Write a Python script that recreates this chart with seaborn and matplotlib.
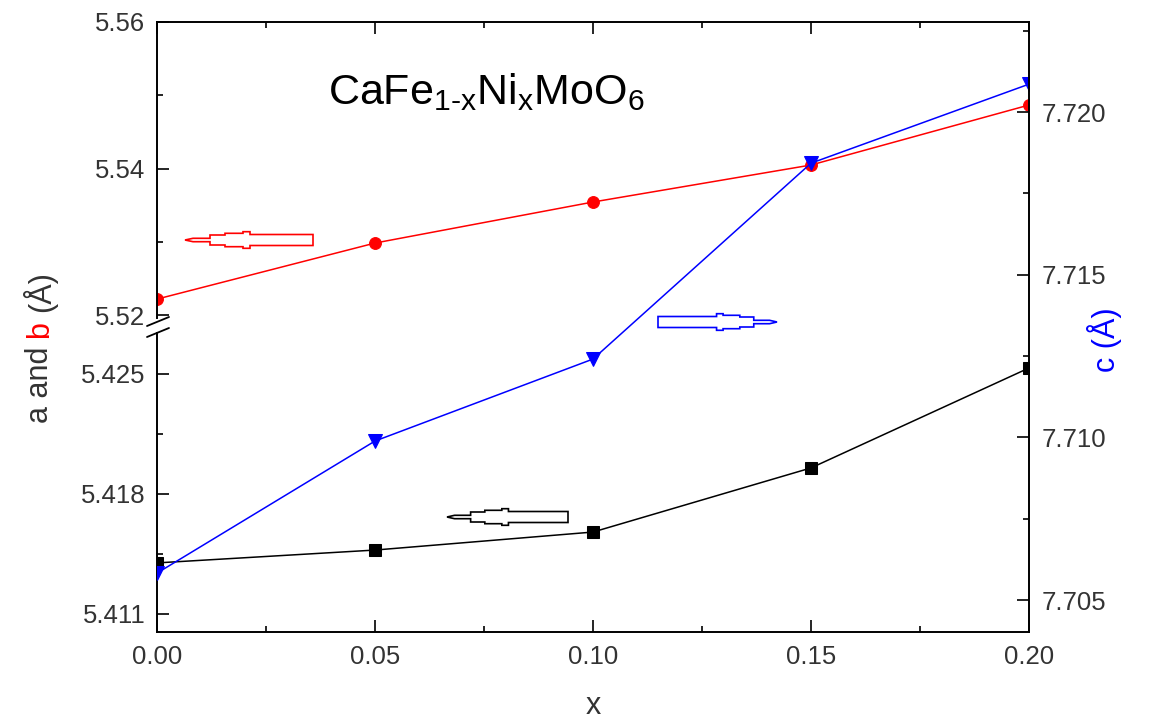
import numpy as np
import pandas as pd
import matplotlib
matplotlib.use('Agg')
import matplotlib.pyplot as plt
import seaborn as sns
from matplotlib.lines import Line2D
from matplotlib.patches import Polygon
from matplotlib.ticker import MultipleLocator, FixedLocator, FormatStrFormatter

# ---- data ----
x_vals = [0.00, 0.05, 0.10, 0.15, 0.20]
a_vals = [5.41398, 5.41473, 5.41578, 5.41952, 5.42535]
b_vals = [5.52218, 5.52983, 5.53543, 5.54048, 5.54867]
c_vals = [7.70583, 7.70989, 7.71241, 7.71843, 7.72086]

x_ticks = [0.00, 0.05, 0.10, 0.15, 0.20]
top_ticks = [5.52, 5.54, 5.56]
bot_ticks = [5.411, 5.418, 5.425]
c_ticks = [7.705, 7.710, 7.715, 7.720]

sns.set_theme(style='ticks')
plt.rcParams['font.family'] = ['Liberation Sans', 'DejaVu Sans']
plt.rcParams['mathtext.fontset'] = 'custom'
plt.rcParams['mathtext.rm'] = 'Liberation Sans'
plt.rcParams['mathtext.it'] = 'Liberation Sans'
plt.rcParams['mathtext.default'] = 'regular'

W, H = 1153, 726
fig = plt.figure(figsize=(W / 100, H / 100), dpi=100)
fig.patch.set_facecolor('white')


def rect(l, t, r, b):
    return [l / W, 1 - b / H, (r - l) / W, (b - t) / H]


def px(x, y):
    return (x / W, 1 - y / H)


L, R = 157, 1029
ax_top = fig.add_axes(rect(L, 22, R, 318))
ax_bot = fig.add_axes(rect(L, 333, R, 632))
ax_c = fig.add_axes(rect(L, 22, R, 632), facecolor='none')

lab_col = '#333333'
tick_fs = 18.5
spine_w = 1.4

for ax in (ax_top, ax_bot, ax_c):
    ax.set_xlim(0, 0.2)
    for s in ax.spines.values():
        s.set_linewidth(spine_w)
        s.set_color('black')
    ax.tick_params(which='both', direction='in', width=1.2, colors='black',
                   labelcolor=lab_col, labelsize=tick_fs)
    ax.tick_params(which='major', length=8.5)
    ax.tick_params(which='minor', length=4.5)

# top panel (b)
ax_top.set_ylim(5.5196, 5.56)
ax_top.spines['bottom'].set_visible(False)
ax_top.spines['right'].set_visible(False)
ax_top.yaxis.set_major_locator(FixedLocator(top_ticks))
ax_top.yaxis.set_minor_locator(MultipleLocator(0.01))
ax_top.yaxis.set_major_formatter(FormatStrFormatter('%.2f'))
ax_top.xaxis.set_major_locator(FixedLocator(x_ticks))
ax_top.xaxis.set_minor_locator(MultipleLocator(0.025))
ax_top.tick_params(axis='x', which='both', bottom=False, top=True,
                   labelbottom=False, labeltop=False)
ax_top.tick_params(axis='y', which='both', left=True, right=False, pad=8.5)

# bottom panel (a)
ax_bot.set_ylim(5.40995, 5.42739)
ax_bot.spines['top'].set_visible(False)
ax_bot.spines['right'].set_visible(False)
ax_bot.yaxis.set_major_locator(FixedLocator(bot_ticks))
ax_bot.yaxis.set_minor_locator(FixedLocator([5.4145, 5.4215]))
ax_bot.yaxis.set_major_formatter(FormatStrFormatter('%.3f'))
ax_bot.xaxis.set_major_locator(FixedLocator(x_ticks))
ax_bot.xaxis.set_minor_locator(MultipleLocator(0.025))
ax_bot.xaxis.set_major_formatter(FormatStrFormatter('%.2f'))
ax_bot.tick_params(axis='x', which='both', bottom=True, top=False, pad=9)
ax_bot.tick_params(axis='y', which='both', left=True, right=False, pad=8.5)

# c axis (right, full height)
ax_c.set_ylim(7.70402, 7.72277)
for s in ('left', 'top', 'bottom'):
    ax_c.spines[s].set_visible(False)
ax_c.yaxis.tick_right()
ax_c.yaxis.set_major_locator(FixedLocator(c_ticks))
ax_c.yaxis.set_minor_locator(MultipleLocator(0.0025))
ax_c.yaxis.set_major_formatter(FormatStrFormatter('%.3f'))
ax_c.tick_params(axis='x', which='both', bottom=False, top=False,
                 labelbottom=False, labeltop=False)
ax_c.tick_params(axis='y', which='both', left=False, right=True, pad=9)

lw = 1.1
sns.lineplot(x=x_vals, y=b_vals, ax=ax_top, color='red', marker='o',
             markersize=8.5, markeredgecolor='red', linewidth=lw)
sns.lineplot(x=x_vals, y=a_vals, ax=ax_bot, color='black', marker='s',
             markersize=9, markeredgecolor='black', linewidth=lw)
sns.lineplot(x=x_vals, y=c_vals, ax=ax_c, color='blue', marker='v',
             markersize=10.5, markeredgecolor='blue', linewidth=lw)
for ax in (ax_top, ax_bot, ax_c):
    ax.set_xlabel('')
    ax.set_ylabel('')

# axis break marks
for (x1, y1, x2, y2) in [(147, 326, 169, 317), (147, 337, 169, 328)]:
    fig.add_artist(Line2D([x1 / W, x2 / W], [1 - y1 / H, 1 - y2 / H],
                          color='black', lw=1.3, transform=fig.transFigure))

# hollow arrows
prof = [(0, 0), (8, 1.7), (25, 1.7), (25, 5), (40, 5), (40, 6.7), (58, 6.7),
        (58, 8.3), (65, 8.3), (65, 5.5), (128, 5.5)]


def arrow(xtip, length, yc, direction, color):
    upper = [(dx * length / 128.0, h) for dx, h in prof]
    lower = [(dx, -h) for dx, h in reversed(upper[1:])]
    pts = upper + lower
    sgn = 1 if direction == 'left' else -1
    verts = [px(xtip + sgn * dx, yc - h) for dx, h in pts]
    fig.add_artist(Polygon(verts, closed=True, fc='white', ec=color, lw=1.2,
                           transform=fig.transFigure))


arrow(185, 128, 240, 'left', 'red')
arrow(777, 119, 322, 'right', 'blue')
arrow(447, 121, 517, 'left', 'black')

# title
fig.text(*px(486, 92), r'CaFe$_{1\text{-}x}$Ni$_x$MoO$_6$', ha='center',
         va='center', fontsize=31, color='black')

# axis labels
lab_fs = 22
fig.text(*px(593, 706), 'x', ha='center', va='center', fontsize=lab_fs,
         color=lab_col)
fig.text(*px(1104, 340), 'c (Å)', rotation=90, ha='center', va='center',
         fontsize=lab_fs, color='blue')

renderer = fig.canvas.get_renderer()
tmp1 = fig.text(0, 0, 'a a', fontsize=lab_fs)
tmp2 = fig.text(0, 0, 'aa', fontsize=lab_fs)
space_w = tmp1.get_window_extent(renderer).width - tmp2.get_window_extent(renderer).width
tmp1.remove()
tmp2.remove()

pieces = [('a and', lab_col), ('b', 'red'), ('(Å)', lab_col)]
widths = []
for s, c in pieces:
    t = fig.text(0, 0, s, fontsize=lab_fs)
    widths.append(t.get_window_extent(renderer).width)
    t.remove()
total = sum(widths) + space_w * (len(pieces) - 1)
ycur = 347 + total / 2
for (s, c), w in zip(pieces, widths):
    fig.text(*px(40, ycur), s, rotation=90, rotation_mode='anchor',
             ha='left', va='center', fontsize=lab_fs, color=c)
    ycur -= w + space_w

fig.savefig('out.png', dpi=100)
